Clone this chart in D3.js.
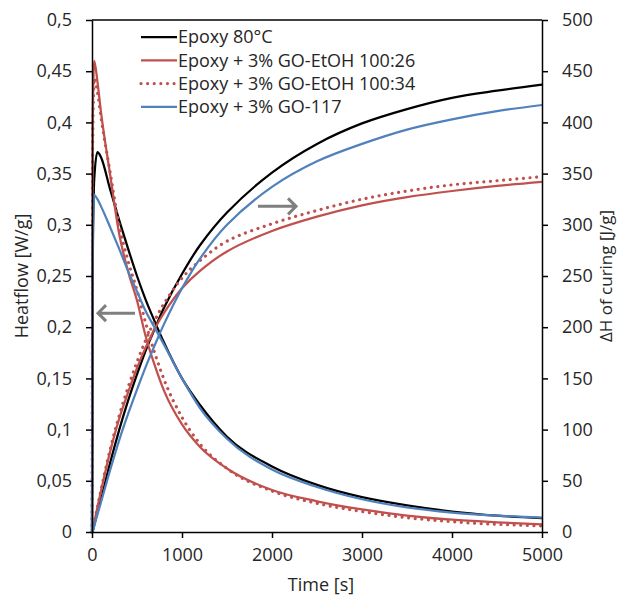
<!DOCTYPE html>
<html>
<head>
<meta charset="utf-8">
<script src="https://cdn.jsdelivr.net/npm/d3@7"></script>
<style>
  body { margin: 0; background: #fff; }
  svg { display: block; font-family: 'Open Sans', sans-serif; }
</style>
</head>
<body>
<svg id="chart" width="621" height="595"></svg>
<script>
// time points [s]
let times = [0, 8, 25, 60, 100, 200, 300, 400, 500, 600, 700, 800, 1000, 1200, 1500, 2000, 2500, 3000, 3500, 4000, 4500, 5000];

// heatflow [W/g]
let hfEpoxy = [0, 0.26, 0.345, 0.371, 0.366, 0.335, 0.305, 0.277, 0.250, 0.226, 0.205, 0.185, 0.150, 0.124, 0.093, 0.064, 0.046, 0.034, 0.026, 0.020, 0.016, 0.0135];
let hfEtoh26 = [0, 0.40, 0.460, 0.44, 0.41, 0.35, 0.292, 0.255, 0.226, 0.19, 0.162, 0.138, 0.105, 0.083, 0.062, 0.041, 0.030, 0.022, 0.016, 0.012, 0.0095, 0.0075];
let hfEtoh34 = [0, 0.38, 0.443, 0.43, 0.405, 0.352, 0.300, 0.265, 0.236, 0.203, 0.174, 0.149, 0.112, 0.086, 0.062, 0.040, 0.028, 0.020, 0.014, 0.010, 0.0075, 0.006];
let hfGo117 = [0, 0.29, 0.329, 0.325, 0.318, 0.298, 0.277, 0.255, 0.235, 0.215, 0.199, 0.183, 0.150, 0.121, 0.091, 0.061, 0.044, 0.032, 0.024, 0.019, 0.016, 0.014];

// ΔH of curing [J/g]
let dhEpoxy = [0, 1, 7, 19, 32, 67, 99, 128, 154, 178, 199, 219, 252, 280, 312, 351, 379, 399, 413, 424, 431, 437];
let dhEtoh26 = [0, 2, 9, 24, 40, 78, 110, 136, 160, 181, 199, 214, 238, 255, 274, 294, 308, 319, 327, 333, 338, 342];
let dhEtoh34 = [0, 2, 9, 24, 41, 80, 113, 141, 166, 188, 207, 223, 248, 265, 284, 301, 314, 325, 333, 339, 343, 347];
let dhGo117 = [0, 1, 6, 17, 29, 60, 89, 115, 139, 162, 183, 203, 238, 267, 300, 337, 362, 379, 393, 403, 411, 417];

let seriesNames = ['Epoxy 80°C', 'Epoxy + 3% GO-EtOH 100:26', 'Epoxy + 3% GO-EtOH 100:34', 'Epoxy + 3% GO-117'];

let timeTicks = [0, 1000, 2000, 3000, 4000, 5000];
let hfTicks = [0, 0.05, 0.1, 0.15, 0.2, 0.25, 0.3, 0.35, 0.4, 0.45, 0.5];
let dhTicks = [0, 50, 100, 150, 200, 250, 300, 350, 400, 450, 500];

// arrows: [t start, t end, value]
let hfArrow = [478, 67, 0.2137];
let dhArrow = [1844, 2267, 318];

let svg = d3.select('#chart');
let width = 621;
let height = 595;

let margin = { left: 92, right: 79, top: 20, bottom: 63 };

let x = d3.scaleLinear()
  .domain([0, 5000])
  .range([margin.left, width - margin.right]);

let yHf = d3.scaleLinear()
  .domain([0, 0.5])
  .range([height - margin.bottom, margin.top]);

let yDh = d3.scaleLinear()
  .domain([0, 500])
  .range([height - margin.bottom, margin.top]);

let styles = [
  { color: '#000000', dash: null, w: 2.25 },
  { color: '#C0504D', dash: null, w: 2.25 },
  { color: '#C0504D', dash: '0.01 6.6', w: 3.2 },
  { color: '#4F81BD', dash: null, w: 2.25 }
];

let hfSeries = [hfEpoxy, hfEtoh26, hfEtoh34, hfGo117];
let dhSeries = [dhEpoxy, dhEtoh26, dhEtoh34, dhGo117];

let fmt = d => String(d).replace('.', ',');

// frame top line
svg.append('line')
  .attr('x1', x(0)).attr('x2', x(5000))
  .attr('y1', yHf(0.5)).attr('y2', yHf(0.5))
  .attr('stroke', '#000').attr('stroke-width', 1.5);

let lineHf = d3.line()
  .x((d, i) => x(times[i]))
  .y(d => yHf(d))
  .curve(d3.curveMonotoneX);

let lineDh = d3.line()
  .x((d, i) => x(times[i]))
  .y(d => yDh(d))
  .curve(d3.curveCatmullRom.alpha(0.5));

let plot = svg.append('g');

[0, 1, 2, 3].forEach(i => {
  let s = styles[i];
  plot.append('path')
    .attr('d', lineDh(dhSeries[i]))
    .attr('fill', 'none')
    .attr('stroke', s.color)
    .attr('stroke-width', s.w)
    .attr('stroke-linecap', s.dash ? 'round' : 'butt')
    .attr('stroke-dasharray', s.dash);
  plot.append('path')
    .attr('d', lineHf(hfSeries[i]))
    .attr('fill', 'none')
    .attr('stroke', s.color)
    .attr('stroke-width', s.w)
    .attr('stroke-linecap', s.dash ? 'round' : 'butt')
    .attr('stroke-dasharray', s.dash);
});

// arrows
function arrow(x1, x2, yy) {
  let dir = x2 > x1 ? 1 : -1;
  let h = 8;
  let p = `M${x1},${yy}L${x2},${yy}M${x2 - dir * h},${yy - h}L${x2},${yy}L${x2 - dir * h},${yy + h}`;
  svg.append('path')
    .attr('d', p)
    .attr('fill', 'none')
    .attr('stroke', '#7f7f7f')
    .attr('stroke-width', 3);
}
arrow(x(hfArrow[0]), x(hfArrow[1]), yHf(hfArrow[2]));
arrow(x(dhArrow[0]), x(dhArrow[1]), yDh(dhArrow[2]));

// axes
let xAxis = d3.axisBottom(x).tickValues(timeTicks).tickFormat(d => String(d)).tickSize(6).tickPadding(6).tickSizeOuter(0);
let yAxisL = d3.axisLeft(yHf).tickValues(hfTicks).tickFormat(fmt).tickSize(6).tickPadding(14).tickSizeOuter(0);
let yAxisR = d3.axisRight(yDh).tickValues(dhTicks).tickFormat(d => String(d)).tickSize(6).tickPadding(14).tickSizeOuter(0);

let gx = svg.append('g')
  .attr('transform', `translate(0,${height - margin.bottom})`)
  .call(xAxis);

let gl = svg.append('g')
  .attr('transform', `translate(${margin.left},0)`)
  .call(yAxisL);

let gr = svg.append('g')
  .attr('transform', `translate(${width - margin.right},0)`)
  .call(yAxisR);

[gx, gl, gr].forEach(g => {
  g.select('.domain').attr('stroke', '#000').attr('stroke-width', 1.5);
  g.selectAll('.tick line').attr('stroke', '#000').attr('stroke-width', 1.5);
  g.selectAll('.tick text')
    .attr('fill', '#262626')
    .style('font-size', '18px')
    .style('font-family', "'Open Sans', sans-serif");
});
gx.selectAll('.tick text').attr('dy', '0.95em');

// axis titles
svg.append('text')
  .attr('x', (margin.left + width - margin.right) / 2 + 4)
  .attr('y', 591)
  .attr('text-anchor', 'middle')
  .attr('fill', '#262626')
  .style('font-size', '18px')
  .text('Time [s]');

svg.append('text')
  .attr('transform', `translate(28,${(margin.top + height - margin.bottom) / 2}) rotate(-90)`)
  .attr('text-anchor', 'middle')
  .attr('fill', '#262626')
  .style('font-size', '18px')
  .text('Heatflow [W/g]');

svg.append('text')
  .attr('transform', `translate(606,${(margin.top + height - margin.bottom) / 2}) rotate(-90)`)
  .attr('text-anchor', 'middle')
  .attr('dy', '0.35em')
  .attr('fill', '#262626')
  .style('font-size', '17px')
  .text('ΔH of curing [J/g]');

// legend
let legend = svg.append('g').attr('transform', 'translate(141,37)');
seriesNames.forEach((name, i) => {
  let s = styles[i];
  let row = legend.append('g').attr('transform', `translate(0,${i * 23.3})`);
  row.append('line')
    .attr('x1', 0).attr('x2', 36)
    .attr('stroke', s.color)
    .attr('stroke-width', s.w)
    .attr('stroke-linecap', s.dash ? 'round' : 'butt')
    .attr('stroke-dasharray', s.dash);
  row.append('text')
    .attr('x', 37)
    .attr('dy', '0.35em')
    .attr('fill', '#262626')
    .style('font-size', '18px')
    .text(name);
});
</script>
</body>
</html>
